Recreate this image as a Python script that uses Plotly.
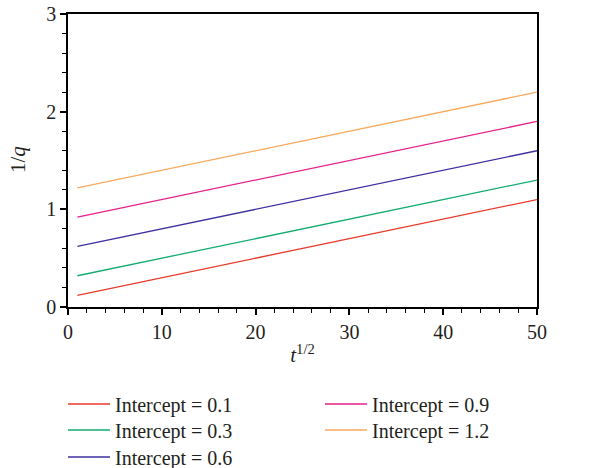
import plotly.graph_objects as go

# Data: straight lines 1/q vs t^{1/2}, endpoints
x_vals = [1, 50]
intercepts = ["0.1", "0.3", "0.6", "0.9", "1.2"]
y_series = {
    "0.1": [0.12, 1.10],
    "0.3": [0.32, 1.30],
    "0.6": [0.62, 1.60],
    "0.9": [0.92, 1.90],
    "1.2": [1.22, 2.20],
}
colors = {
    "0.1": "#e83a2a",
    "0.3": "#12ad6e",
    "0.6": "#3d30a0",
    "0.9": "#e6208a",
    "1.2": "#f8a95e",
}
# legend slot (column-major, 2 columns) for each series
legend_ids = ["legend", "legend2", "legend3", "legend4", "legend5"]
legend_pos = {  # (left px, row-centre px) in the 591x468 container
    "legend": (63, 404),
    "legend2": (63, 430),
    "legend3": (63, 457),
    "legend4": (320, 404),
    "legend5": (320, 430),
}

FONT = "Liberation Serif"
TXT = "#231f20"
W, H = 591, 468
ML, MR, MT, MB = 68, 54, 14, 161

fig = go.Figure()
for k, lg in zip(intercepts, legend_ids):
    fig.add_trace(go.Scatter(
        x=x_vals, y=y_series[k], mode="lines",
        line=dict(color=colors[k], width=1.3),
        name=f"Intercept = {k}",
        legend=lg,
    ))

axis_common = dict(
    showline=True, linecolor="black", linewidth=1.5, mirror=True,
    ticks="outside", ticklen=6, tickwidth=1.5, tickcolor="black",
    showgrid=False, zeroline=False,
    tickfont=dict(family=FONT, size=20, color=TXT),
)

fig.update_xaxes(
    range=[0, 50], dtick=10, tick0=0,
    minor=dict(dtick=2, ticks="outside", ticklen=4, tickwidth=1.2, tickcolor="black"),
    title=dict(text="<i>t</i><sup>1/2</sup>", font=dict(family=FONT, size=21, color=TXT), standoff=6),
    **axis_common,
)
fig.update_yaxes(
    range=[0, 3], dtick=1, tick0=0,
    minor=dict(dtick=0.2, ticks="outside", ticklen=4, tickwidth=1.2, tickcolor="black"),
    **axis_common,
)

# y-axis title as a rotated annotation
fig.add_annotation(
    text="1/<i>q</i>", textangle=-90, showarrow=False,
    xref="paper", yref="paper",
    x=(18 - ML) / (W - ML - MR), y=1 - (160 - MT) / (H - MT - MB),
    xanchor="center", yanchor="middle",
    font=dict(family=FONT, size=21, color=TXT),
)

layout_legends = {}
for lg in legend_ids:
    px, py = legend_pos[lg]
    layout_legends[lg] = dict(
        font=dict(family=FONT, size=20, color=TXT),
        bgcolor="rgba(0,0,0,0)", itemwidth=42,
        xanchor="left", yanchor="middle", orientation="v",
        xref="container", yref="container",
        x=px / W, y=1 - py / H,
    )

fig.update_layout(
    width=W, height=H,
    margin=dict(l=ML, r=MR, t=MT, b=MB, autoexpand=False),
    plot_bgcolor="white", paper_bgcolor="white",
    showlegend=True,
    **layout_legends,
)

fig.write_html("out.html")
